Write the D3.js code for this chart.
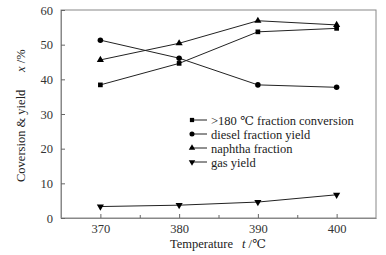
<!DOCTYPE html>
<html>
<head>
<meta charset="utf-8">
<script src="https://cdn.jsdelivr.net/npm/d3@7"></script>
<style>
  body { margin: 0; background: #fff; }
  svg text { font-family: "Liberation Serif", "DejaVu Serif", serif; }
</style>
</head>
<body>
<script>
const temps = [370, 380, 390, 400]
const xTicks = [370, 380, 390, 400]
const yTicks = [0, 10, 20, 30, 40, 50, 60]

const conversion = [38.4, 44.6, 53.7, 54.7]
const diesel = [51.3, 46.1, 38.4, 37.7]
const naphtha = [45.6, 50.4, 56.9, 55.7]
const gas = [3.3, 3.7, 4.6, 6.7]

const seriesNames = ['>180 \u2103 fraction conversion', 'diesel fraction yield', 'naphtha fraction', 'gas yield']
const seriesValues = [conversion, diesel, naphtha, gas]
const seriesSymbols = [d3.symbolSquare, d3.symbolCircle, d3.symbolTriangle, d3.symbolTriangle]

let width = 386
let height = 255
let margin = { top: 10, right: 10, bottom: 37, left: 61 }

const svg = d3.select('body').append('svg')
  .attr('width', width)
  .attr('height', height)

const x = d3.scaleLinear().domain([365, 405]).range([margin.left, width - margin.right])
const y = d3.scaleLinear().domain([0, 60]).range([height - margin.bottom, margin.top])

// frame
svg.append('rect')
  .attr('x', margin.left).attr('y', margin.top)
  .attr('width', width - margin.right - margin.left)
  .attr('height', height - margin.bottom - margin.top)
  .attr('fill', 'none').attr('stroke', '#888').attr('stroke-width', 1)

// axes, ticks pointing inside
svg.append('g')
  .attr('transform', `translate(0,${height - margin.bottom})`)
  .call(d3.axisBottom(x).tickValues(xTicks).tickSizeInner(-4).tickSizeOuter(0).tickPadding(6).tickFormat(d3.format('d')))
svg.append('g')
  .attr('transform', `translate(0,${height - margin.bottom})`)
  .call(d3.axisBottom(x).tickValues([375, 385, 395]).tickSize(-3).tickFormat(''))
  .call(g => g.select('.domain').remove())
svg.append('g')
  .attr('transform', `translate(${margin.left},0)`)
  .call(d3.axisLeft(y).tickValues(yTicks).tickSizeInner(-4).tickSizeOuter(0).tickPadding(8))

svg.selectAll('.domain').attr('stroke', '#888')
svg.selectAll('.tick line').attr('stroke', '#666')
svg.selectAll('g').attr('font-family', '"Liberation Serif", "DejaVu Serif", serif')
svg.selectAll('.tick text').attr('font-size', 12.5).attr('fill', '#333')

// series
const line = d3.line().x((d, i) => x(temps[i])).y(d => y(d))
seriesValues.forEach((vals, k) => {
  svg.append('path')
    .datum(vals)
    .attr('d', line)
    .attr('fill', 'none')
    .attr('stroke', '#222')
    .attr('stroke-width', 1)
  svg.selectAll(null)
    .data(vals)
    .enter().append('path')
    .attr('d', d3.symbol().type(seriesSymbols[k]).size(k == 1 ? 24 : 22))
    .attr('transform', (d, i) => `translate(${x(temps[i])},${y(d)})` + (k == 3 ? ' rotate(180)' : ''))
    .attr('fill', '#000')
})

// legend
const legend = svg.append('g').attr('transform', 'translate(190,120)')
seriesNames.forEach((name, k) => {
  const g = legend.append('g').attr('transform', `translate(0,${k * 14})`)
  g.append('line').attr('x1', 0).attr('x2', 17).attr('y1', 0).attr('y2', 0)
    .attr('stroke', '#222').attr('stroke-width', 1)
  g.append('path')
    .attr('d', d3.symbol().type(seriesSymbols[k]).size(k == 1 ? 20 : 18))
    .attr('transform', 'translate(2,0)' + (k == 3 ? ' rotate(180)' : ''))
    .attr('fill', '#000')
  g.append('text').attr('x', 21).attr('y', 4.5)
    .attr('font-size', 12.5).attr('fill', '#222')
    .text(name)
})

// axis titles
const xt = svg.append('text')
  .attr('x', 170).attr('y', 248)
  .attr('font-size', 12.5).attr('fill', '#222')
xt.append('tspan').text('Temperature')
xt.append('tspan').attr('x', 242).attr('font-style', 'italic').text('t')
xt.append('tspan').text(' /\u2103')

const yt = svg.append('text')
  .attr('transform', 'translate(25,182) rotate(-90)')
  .attr('font-size', 12.5).attr('fill', '#222')
yt.append('tspan').text('Coversion & yield')
yt.append('tspan').attr('x', 110).attr('font-style', 'italic').text('x')
yt.append('tspan').text(' /%')
</script>
</body>
</html>
